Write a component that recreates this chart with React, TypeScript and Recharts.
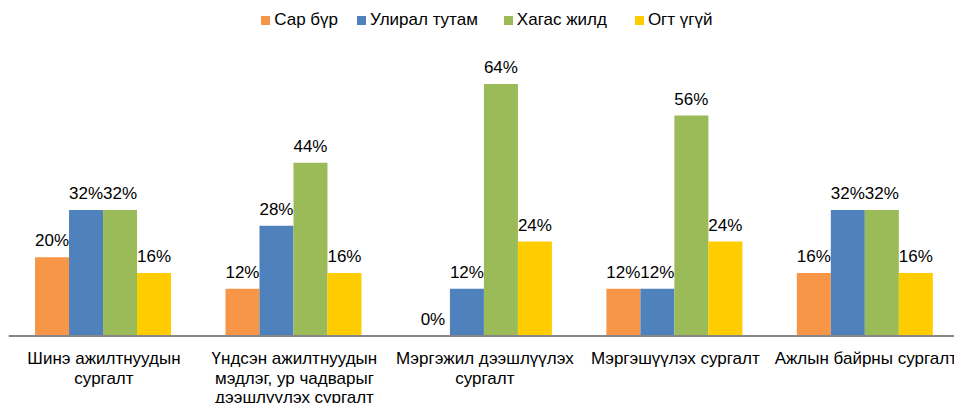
import React from 'react';
import { BarChart, Bar, XAxis, YAxis, Legend, LabelList } from 'recharts';

const categories = [
  'Шинэ ажилтнуудын сургалт',
  'Үндсэн ажилтнуудын мэдлэг, ур чадварыг дээшлүүлэх сургалт',
  'Мэргэжил дээшлүүлэх сургалт',
  'Мэргэшүүлэх сургалт',
  'Ажлын байрны сургалт',
];
const categoryLines = [
  ['Шинэ ажилтнуудын', 'сургалт'],
  ['Үндсэн ажилтнуудын', 'мэдлэг, ур чадварыг', 'дээшлүүлэх сургалт'],
  ['Мэргэжил дээшлүүлэх', 'сургалт'],
  ['Мэргэшүүлэх сургалт'],
  ['Ажлын байрны сургалт'],
];

const seriesNames = ['Сар бүр', 'Улирал тутам', 'Хагас жилд', 'Огт үгүй'];
const seriesColors = ['#F79646', '#4F81BD', '#9BBB59', '#FFCC00'];

const monthly = [20, 12, 0, 12, 16];
const quarterly = [32, 28, 12, 12, 32];
const halfYear = [32, 44, 64, 56, 32];
const never = [16, 16, 24, 24, 16];

const seriesValues = [monthly, quarterly, halfYear, never];
const seriesKeys = ['s0', 's1', 's2', 's3'];

const data = categories.map((c, i) => {
  const row: any = { name: c };
  seriesKeys.forEach((k, s) => {
    row[k] = seriesValues[s][i];
  });
  return row;
});

const legendGaps = [0, 19, 26, 28];
const FONT = 17;

const CategoryTick = (props: any) => {
  const { x, y, payload } = props;
  const idx = categories.indexOf(payload.value);
  const lines = categoryLines[idx] || [payload.value];
  return (
    <text x={x} y={y} textAnchor="middle" fill="#000" fontSize={FONT}>
      {lines.map((l, i) => (
        <tspan key={i} x={x} dy={i === 0 ? 28 : 19.5}>
          {l}
        </tspan>
      ))}
    </text>
  );
};

const ValueLabel = (props: any) => {
  const { x, y, width, value } = props;
  if (value === undefined || value === null) return null;
  return (
    <text x={Number(x) + Number(width) / 2} y={Number(y) - 11} textAnchor="middle" fill="#000" fontSize={FONT}>
      {`${value}%`}
    </text>
  );
};

const LegendContent = () => (
  <div style={{ display: 'flex', justifyContent: 'center', alignItems: 'center', fontSize: FONT, color: '#000', paddingLeft: 4 }}>
    {seriesNames.map((n, i) => (
      <div key={n} style={{ display: 'flex', alignItems: 'center', marginLeft: legendGaps[i] }}>
        <span style={{ display: 'inline-block', width: 9, height: 9, background: seriesColors[i], marginRight: 4 }} />
        <span>{n}</span>
      </div>
    ))}
  </div>
);

export default function App() {
  return (
    <div
      style={{
        position: 'fixed',
        left: 8,
        top: 8,
        width: 946,
        height: 395,
        overflow: 'hidden',
        fontFamily: '"Liberation Sans", Arial, sans-serif',
        background: '#fff',
      }}
    >
      <BarChart
        width={953}
        height={400}
        data={data}
        margin={{ top: 52.4, right: 0, left: 0.75, bottom: 0 }}
        barGap={0}
        barCategoryGap="13.8%"
        style={{ fontFamily: '"Liberation Sans", Arial, sans-serif' }}
      >
        <XAxis
          dataKey="name"
          height={72}
          interval={0}
          tickLine={false}
          tickSize={0}
          tickMargin={0}
          axisLine={{ stroke: '#878787', strokeWidth: 2 }}
          tick={<CategoryTick />}
        />
        <YAxis hide domain={[0, 70]} />
        <Legend
          verticalAlign="middle"
          align="center"
          layout="horizontal"
          wrapperStyle={{ top: 2 }}
          content={<LegendContent />}
        />
        {seriesKeys.map((k, i) => (
          <Bar
            key={k}
            dataKey={k}
            name={seriesNames[i]}
            fill={seriesColors[i]}
            minPointSize={0.01}
            isAnimationActive={false}
          >
            <LabelList dataKey={k} content={<ValueLabel />} />
          </Bar>
        ))}
      </BarChart>
    </div>
  );
}
